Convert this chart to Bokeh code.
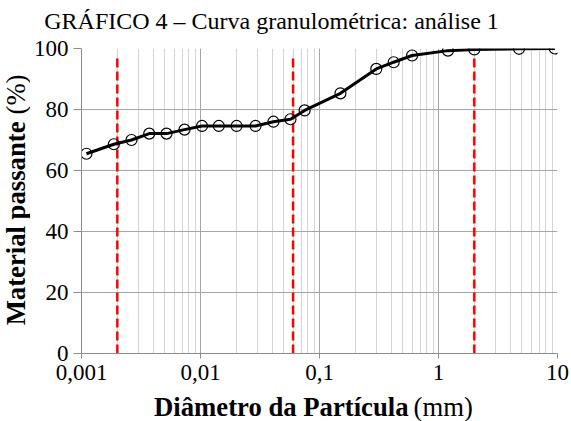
from bokeh.plotting import figure
from bokeh.layouts import column, row
from bokeh.models import FixedTicker, Label, ColumnDataSource
from bokeh.embed import file_html
from bokeh.resources import INLINE
import math

# Data
diameter_mm = [0.0011, 0.00187, 0.00263, 0.00371, 0.00518, 0.00734, 0.0103, 0.01425,
               0.0201, 0.029, 0.041, 0.057, 0.075, 0.15, 0.3, 0.42, 0.6, 1.2, 2.0, 4.75, 9.5]
passing_pct = [65.5, 68.6, 70.0, 72.1, 72.1, 73.4, 74.6, 74.6,
               74.6, 74.6, 76.0, 76.8, 79.7, 85.3, 93.3, 95.5, 97.7, 99.3, 99.7, 99.9, 100.0]
limits_mm = [0.002, 0.06, 2.0]
limit_top = [98, 98, 98]
x_ticks = [0.001, 0.01, 0.1, 1, 10]
x_tick_labels = ["0,001", "0,01", "0,1", "1", "10"]
y_ticks = [0, 20, 40, 60, 80, 100]

title_text = "GRÁFICO 4 – Curva granulométrica: análise 1"
xlabel_bold, xlabel_unit = "Diâmetro da Partícula", "(mm)"
ylabel_bold, ylabel_unit = "Material passante", "(%)"

SERIF = "Liberation Serif"
TOTAL_W = 571
TITLE_H, XLAB_H, YLAB_W = 34, 30, 30
MAIN_H = 421 - TITLE_H - XLAB_H


def blank(width, height):
    f = figure(width=width, height=height, x_range=(0, 1), y_range=(0, 1),
               output_backend="svg", toolbar_location=None,
               x_axis_location=None, y_axis_location=None, min_border=0)
    f.grid.visible = False
    f.outline_line_color = None
    f.background_fill_color = "white"
    f.border_fill_color = "white"
    return f


# main plot
p = figure(width=TOTAL_W - YLAB_W, height=MAIN_H, x_axis_type="log",
           x_range=(0.001, 10), y_range=(0, 100),
           output_backend="svg", toolbar_location=None,
           min_border_left=51, min_border_right=14, min_border_top=48 - TITLE_H,
           min_border_bottom=38)
p.outline_line_color = None
p.background_fill_color = "white"
p.border_fill_color = "white"

minor = []
for d in [0.001, 0.01, 0.1, 1]:
    for k in range(2, 10):
        minor.append(d * k)
p.xaxis.ticker = FixedTicker(ticks=x_ticks, minor_ticks=minor)
p.xaxis.major_label_overrides = {t: l for t, l in zip(x_ticks, x_tick_labels)}
p.yaxis.ticker = FixedTicker(ticks=y_ticks)

for ax in (p.xaxis[0], p.yaxis[0]):
    ax.axis_line_color = "#8c8c8c"
    ax.axis_line_width = 1
    ax.major_tick_line_color = "#8c8c8c"
    ax.major_tick_in = 0
    ax.minor_tick_line_color = None
    ax.major_label_text_font = SERIF
    ax.major_label_text_font_size = "23px"
    ax.major_label_text_color = "black"
p.yaxis.major_tick_out = 8
p.xaxis.major_tick_out = 5
p.yaxis.major_label_standoff = 5
p.xaxis.major_label_standoff = 6

p.xgrid.grid_line_color = "#a6a6a6"
p.xgrid.minor_grid_line_color = "#d4d4d4"
p.ygrid.grid_line_color = "#a6a6a6"

p.segment(x0=limits_mm, y0=[0] * len(limits_mm), x1=limits_mm, y1=limit_top,
          line_color="#ff0000", line_width=2.5, line_dash="9 4")

src = ColumnDataSource(dict(x=diameter_mm, y=passing_pct))
p.line("x", "y", source=src, line_color="black", line_width=3)
p.scatter("x", "y", source=src, size=11, marker="circle", fill_alpha=0,
          line_color="black", line_width=1.2)

# title strip
ft = blank(TOTAL_W, TITLE_H)
ft.add_layout(Label(x=271, y=TITLE_H - 20, x_units="screen", y_units="screen",
                    text=title_text, text_color="black",
                    text_font=SERIF, text_font_size="24px", text_align="center",
                    text_baseline="middle"))

# y label strip
fy = blank(YLAB_W, MAIN_H)
fy.add_layout(Label(x=15, y=MAIN_H - 125, x_units="screen", y_units="screen",
                    text=ylabel_bold, text_color="black",
                    text_font=SERIF, text_font_style="bold", text_font_size="26.7px",
                    text_align="right", text_baseline="middle", angle=math.pi / 2))
fy.add_layout(Label(x=15, y=MAIN_H - 118, x_units="screen", y_units="screen",
                    text=ylabel_unit, text_color="black",
                    text_font=SERIF, text_font_size="26.7px",
                    text_align="left", text_baseline="middle", angle=math.pi / 2))

# x label strip
fx = blank(TOTAL_W, XLAB_H)
fx.add_layout(Label(x=408, y=15, x_units="screen", y_units="screen", text=xlabel_bold,
                    text_color="black",
                    text_font=SERIF, text_font_style="bold", text_font_size="26.7px",
                    text_align="right", text_baseline="middle"))
fx.add_layout(Label(x=413, y=15, x_units="screen", y_units="screen", text=xlabel_unit,
                    text_color="black",
                    text_font=SERIF, text_font_size="26.7px",
                    text_align="left", text_baseline="middle"))

layout = column(ft, row(fy, p, spacing=0), fx, spacing=0)
open("out.html", "w").write(file_html(layout, INLINE))
